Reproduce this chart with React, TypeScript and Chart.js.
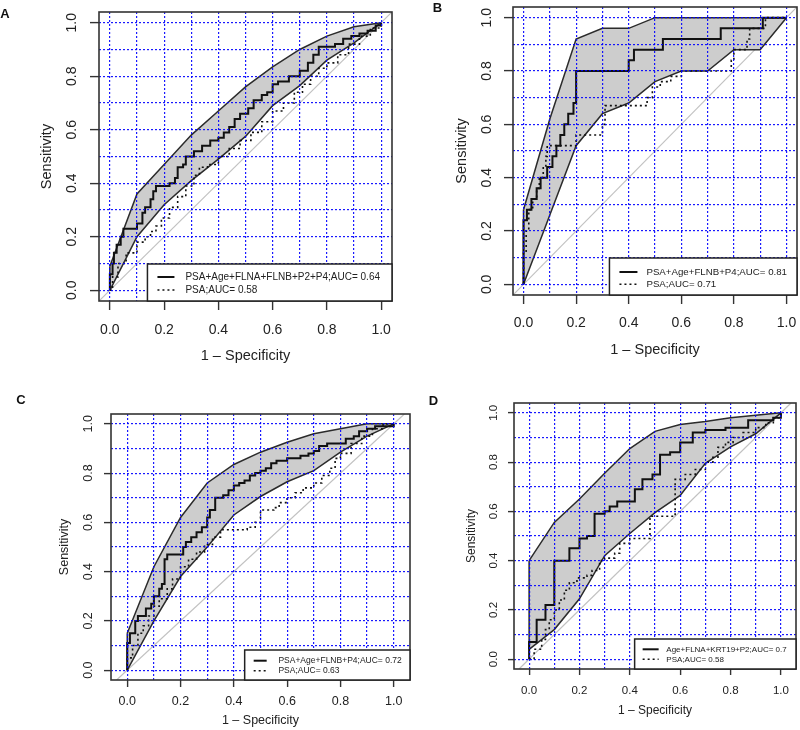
import React, { useEffect, useRef } from "react";
import { Chart, registerables } from "chart.js";

Chart.register(...registerables);

const FONT = '"Liberation Sans", Arial, Helvetica, sans-serif';

// ---------- shared axis data ----------
const SPEC_POINTS = [0, 0.1, 0.2, 0.3, 0.4, 0.5, 0.6, 0.7, 0.8, 0.9, 1.0];
const TICK_VALUES = [0, 0.2, 0.4, 0.6, 0.8, 1.0];
const TICK_LABELS = ["0.0", "0.2", "0.4", "0.6", "0.8", "1.0"];
const X_TITLE = "1 – Specificity";
const Y_TITLE = "Sensitivity";
const Y_MIN = -0.04;
const Y_MAX = 1.04;
const PANEL_LETTERS = ["A", "B", "C", "D"];
const MODEL_LABELS = [
  "PSA+Age+FLNA+FLNB+P2+P4;AUC= 0.64",
  "PSA+Age+FLNB+P4;AUC= 0.81",
  "PSA+Age+FLNB+P4;AUC= 0.72",
  "Age+FLNA+KRT19+P2;AUC= 0.7",
];
const PSA_LABELS = ["PSA;AUC= 0.58", "PSA;AUC= 0.71", "PSA;AUC= 0.63", "PSA;AUC= 0.58"];

// ---------- panel A ----------
const A_ROC_X = [0, 0, 0.01, 0.015, 0.025, 0.04, 0.05, 0.08, 0.1, 0.12, 0.13, 0.15, 0.16, 0.17, 0.21, 0.22, 0.24, 0.25, 0.27, 0.28, 0.31, 0.34, 0.37, 0.4, 0.42, 0.44, 0.46, 0.48, 0.51, 0.53, 0.56, 0.58, 0.6, 0.62, 0.66, 0.7, 0.73, 0.75, 0.77, 0.8, 0.83, 0.86, 0.89, 0.92, 0.95, 0.98, 1];
const A_ROC_Y = [0, 0.06, 0.1, 0.14, 0.17, 0.2, 0.23, 0.23, 0.25, 0.29, 0.31, 0.34, 0.37, 0.39, 0.39, 0.4, 0.42, 0.46, 0.47, 0.5, 0.52, 0.54, 0.56, 0.57, 0.59, 0.61, 0.64, 0.66, 0.68, 0.71, 0.73, 0.74, 0.77, 0.78, 0.8, 0.82, 0.85, 0.88, 0.91, 0.91, 0.92, 0.94, 0.95, 0.96, 0.97, 0.99, 1];
const A_PSA_X = [0, 0.01, 0.03, 0.06, 0.1, 0.13, 0.15, 0.17, 0.19, 0.22, 0.25, 0.28, 0.31, 0.33, 0.36, 0.4, 0.44, 0.48, 0.52, 0.56, 0.6, 0.64, 0.68, 0.71, 0.74, 0.77, 0.8, 0.84, 0.88, 0.92, 0.96, 1];
const A_PSA_Y = [0, 0.05, 0.1, 0.14, 0.18, 0.2, 0.22, 0.24, 0.27, 0.31, 0.35, 0.39, 0.43, 0.46, 0.47, 0.5, 0.53, 0.56, 0.59, 0.63, 0.67, 0.7, 0.74, 0.77, 0.8, 0.83, 0.85, 0.88, 0.92, 0.95, 0.98, 1];
const A_CI_UPPER = [0.09, 0.36, 0.47, 0.58, 0.67, 0.76, 0.835, 0.9, 0.95, 0.985, 1.0];
const A_CI_LOWER = [0.0, 0.2, 0.32, 0.41, 0.49, 0.575, 0.69, 0.765, 0.86, 0.925, 1.0];

// ---------- panel B ----------
const B_ROC_X = [0, 0, 0.013, 0.03, 0.05, 0.065, 0.09, 0.11, 0.125, 0.14, 0.155, 0.17, 0.19, 0.2, 0.4, 0.42, 0.53, 0.75, 0.91, 1];
const B_ROC_Y = [0, 0.24, 0.28, 0.32, 0.36, 0.4, 0.44, 0.48, 0.52, 0.56, 0.6, 0.64, 0.68, 0.8, 0.84, 0.88, 0.92, 0.96, 1, 1];
const B_PSA_X = [0, 0, 0.01, 0.02, 0.035, 0.05, 0.06, 0.075, 0.085, 0.09, 0.2, 0.3, 0.31, 0.47, 0.49, 0.52, 0.56, 0.6, 0.78, 0.79, 0.8, 0.85, 0.86, 0.92, 1];
const B_PSA_Y = [0, 0.12, 0.2, 0.28, 0.32, 0.36, 0.4, 0.44, 0.48, 0.52, 0.56, 0.6, 0.67, 0.7, 0.74, 0.76, 0.78, 0.8, 0.8, 0.84, 0.88, 0.92, 0.96, 1, 1];
const B_CI_UPPER = [0.28, 0.62, 0.92, 0.96, 0.96, 1.0, 1.0, 1.0, 1.0, 1.0, 1.0];
const B_CI_LOWER = [0.0, 0.26, 0.52, 0.64, 0.68, 0.76, 0.8, 0.8, 0.88, 0.88, 1.0];

// ---------- panel C ----------
const C_ROC_X = [0, 0, 0.01, 0.03, 0.04, 0.07, 0.09, 0.1, 0.12, 0.13, 0.14, 0.15, 0.2, 0.21, 0.22, 0.24, 0.26, 0.28, 0.3, 0.31, 0.33, 0.36, 0.38, 0.4, 0.42, 0.44, 0.46, 0.48, 0.5, 0.52, 0.54, 0.56, 0.6, 0.65, 0.68, 0.7, 0.72, 0.75, 0.8, 0.82, 0.85, 0.87, 0.9, 0.93, 1];
const C_ROC_Y = [0, 0.11, 0.15, 0.2, 0.22, 0.25, 0.27, 0.3, 0.33, 0.35, 0.45, 0.47, 0.47, 0.5, 0.52, 0.54, 0.56, 0.58, 0.62, 0.65, 0.7, 0.71, 0.73, 0.75, 0.76, 0.77, 0.79, 0.8, 0.81, 0.82, 0.84, 0.85, 0.86, 0.87, 0.88, 0.89, 0.91, 0.92, 0.92, 0.94, 0.95, 0.97, 0.98, 0.99, 1];
const C_PSA_X = [0, 0, 0.02, 0.04, 0.06, 0.08, 0.1, 0.12, 0.15, 0.17, 0.2, 0.23, 0.26, 0.29, 0.32, 0.35, 0.45, 0.48, 0.5, 0.55, 0.57, 0.6, 0.63, 0.66, 0.7, 0.73, 0.76, 0.78, 0.8, 0.84, 0.88, 0.92, 0.96, 1];
const C_PSA_Y = [0, 0.05, 0.1, 0.15, 0.18, 0.22, 0.26, 0.29, 0.33, 0.37, 0.42, 0.45, 0.48, 0.51, 0.54, 0.57, 0.58, 0.6, 0.65, 0.66, 0.68, 0.7, 0.72, 0.74, 0.76, 0.79, 0.82, 0.86, 0.88, 0.92, 0.95, 0.98, 1, 1];
const C_CI_UPPER = [0.15, 0.42, 0.62, 0.76, 0.835, 0.885, 0.925, 0.96, 0.98, 1.0, 1.0];
const C_CI_LOWER = [0.0, 0.2, 0.38, 0.5, 0.63, 0.705, 0.765, 0.81, 0.885, 0.95, 1.0];

// ---------- panel D ----------
const D_ROC_X = [0, 0, 0.03, 0.065, 0.1, 0.16, 0.2, 0.23, 0.26, 0.3, 0.32, 0.35, 0.42, 0.45, 0.49, 0.52, 0.56, 0.6, 0.65, 0.7, 0.78, 0.87, 0.97, 1];
const D_ROC_Y = [0, 0.07, 0.16, 0.22, 0.4, 0.45, 0.49, 0.5, 0.59, 0.6, 0.62, 0.64, 0.69, 0.73, 0.75, 0.83, 0.84, 0.88, 0.92, 0.93, 0.94, 0.97, 0.98, 1];
const D_PSA_X = [0, 0.02, 0.05, 0.065, 0.08, 0.1, 0.12, 0.14, 0.16, 0.19, 0.23, 0.25, 0.28, 0.3, 0.34, 0.36, 0.4, 0.48, 0.48, 0.58, 0.58, 0.62, 0.66, 0.7, 0.73, 0.75, 0.78, 0.81, 0.85, 0.9, 0.94, 0.97, 1];
const D_PSA_Y = [0, 0.04, 0.08, 0.12, 0.16, 0.2, 0.24, 0.28, 0.31, 0.33, 0.34, 0.36, 0.4, 0.41, 0.43, 0.47, 0.49, 0.5, 0.58, 0.63, 0.73, 0.75, 0.77, 0.8, 0.82, 0.86, 0.88, 0.9, 0.92, 0.94, 0.96, 0.98, 1];
const D_CI_UPPER = [0.4, 0.555, 0.65, 0.755, 0.855, 0.925, 0.953, 0.965, 0.98, 0.99, 1.0];
const D_CI_LOWER = [0.04, 0.12, 0.245, 0.42, 0.51, 0.595, 0.665, 0.795, 0.862, 0.915, 1.0];

const SERIES = [
  { rocX: A_ROC_X, rocY: A_ROC_Y, psaX: A_PSA_X, psaY: A_PSA_Y, up: A_CI_UPPER, lo: A_CI_LOWER },
  { rocX: B_ROC_X, rocY: B_ROC_Y, psaX: B_PSA_X, psaY: B_PSA_Y, up: B_CI_UPPER, lo: B_CI_LOWER },
  { rocX: C_ROC_X, rocY: C_ROC_Y, psaX: C_PSA_X, psaY: C_PSA_Y, up: C_CI_UPPER, lo: C_CI_LOWER },
  { rocX: D_ROC_X, rocY: D_ROC_Y, psaX: D_PSA_X, psaY: D_PSA_Y, up: D_CI_UPPER, lo: D_CI_LOWER },
];

// ---------- layout (positions / styles only) ----------
const LAYOUT = [
  {
    box: [99, 12, 392, 301], xPad: 0.04, tickFont: 14, titleFont: 14.5, tickLen: 9,
    yTitleX: 46.7, yTickX: 71.7, xTickY: 330, xTitleY: 355.5, xTitlePadB: 4,
    legend: { h: 37, row1: 13, row2: 26, sampleX0: 10, sampleLen: 17, textX: 38, rightMargin: 12, font: 10 },
    letter: [5, 13],
  },
  {
    box: [513, 7, 797, 295], xPad: 0.04, tickFont: 14, titleFont: 14.5, tickLen: 9,
    yTitleX: 461.7, yTickX: 486.7, xTickY: 323.3, xTitleY: 349.5, xTitlePadB: 4,
    legend: { h: 37, row1: 14, row2: 26.3, sampleX0: 10, sampleLen: 18, textX: 37, rightMargin: 10, font: 9.7 },
    letter: [437.5, 7],
  },
  {
    box: [111, 414, 410, 680], xPad: 0.061, tickFont: 12.5, titleFont: 12.5, tickLen: 7,
    yTitleX: 65, yTickX: 88.3, xTickY: 701.7, xTitleY: 720.5, xTitlePadB: 0,
    legend: { h: 30, row1: 10.7, row2: 20.7, sampleX0: 9, sampleLen: 13, textX: 33.7, rightMargin: 8.3, font: 8.5 },
    letter: [21, 399],
  },
  {
    box: [514, 403, 796, 669], xPad: 0.06, tickFont: 11.5, titleFont: 12, tickLen: 6,
    yTitleX: 471.7, yTickX: 494, xTickY: 690.7, xTitleY: 710.5, xTitlePadB: 2,
    legend: { h: 30, row1: 10.3, row2: 20.3, sampleX0: 8, sampleLen: 16, textX: 31.7, rightMargin: 9.3, font: 8 },
    letter: [433.5, 400],
  },
];

const GRID_BLUE = "rgba(0,0,255,0.9)";
const BAND_FILL = "#cdcdcd";
const BAND_EDGE = "#2b2b2b";
const LINE_BLACK = "#111111";
const DIAG_GREY = "#c2c2c2";
const TEXT_COLOR = "#222222";

function pts(xs: number[], ys: number[]) {
  return xs.map((x, i) => ({ x, y: ys[i] }));
}

function tickLabel(value: number) {
  const k = TICK_VALUES.findIndex((v) => Math.abs(v - value) < 1e-9);
  return k >= 0 ? TICK_LABELS[k] : "";
}

function buildChart(canvas: HTMLCanvasElement, L: any, S: any, idx: number) {
  const W = 800;
  const H = 730;
  const [l, t, r, b] = L.box;
  const meas = document.createElement("canvas").getContext("2d") as CanvasRenderingContext2D;
  meas.font = `${L.tickFont}px ${FONT}`;
  const widest = Math.max(...TICK_LABELS.map((s) => meas.measureText(s).width));
  const lhT = L.titleFont * 1.2;
  const lhK = L.tickFont * 1.2;
  const padL = L.yTitleX - lhT / 2 - 4;
  const yWidth = l - padL;
  const yTickPad = l - L.tickLen - widest / 2 - L.yTickX;
  const xTickPad = L.xTickY - b - L.tickLen - lhK / 2;
  const scaleBottom = L.xTitleY + lhT / 2 + L.xTitlePadB;
  const padB = H - scaleBottom;
  const xHeight = scaleBottom - b;
  const xMin = -L.xPad;
  const xMax = 1 + L.xPad;
  const dMin = Math.max(xMin, Y_MIN);
  const dMax = Math.min(xMax, Y_MAX);

  const gridTickColor = (ctx: any) => (ctx.index % 2 === 0 ? "#333" : "rgba(0,0,0,0)");

  const framePlugin = {
    id: "frameAndLegend" + idx,
    afterDraw(chart: any) {
      const ctx = chart.ctx;
      const ca = chart.chartArea;
      ctx.save();
      // frame
      ctx.strokeStyle = "#333";
      ctx.lineWidth = 1.6;
      ctx.setLineDash([]);
      ctx.strokeRect(ca.left, ca.top, ca.right - ca.left, ca.bottom - ca.top);
      // legend
      const lg = L.legend;
      ctx.font = `${lg.font}px ${FONT}`;
      const tw = Math.max(ctx.measureText(MODEL_LABELS[idx]).width, ctx.measureText(PSA_LABELS[idx]).width);
      const right = ca.right;
      const bottom = ca.bottom;
      const left = right - (lg.textX + tw + lg.rightMargin);
      const top = bottom - lg.h;
      ctx.fillStyle = "#ffffff";
      ctx.fillRect(left, top, right - left, bottom - top);
      ctx.strokeStyle = "#222";
      ctx.lineWidth = 1.5;
      ctx.strokeRect(left, top, right - left, bottom - top);
      const y1 = top + lg.row1;
      const y2 = top + lg.row2;
      ctx.strokeStyle = LINE_BLACK;
      ctx.lineWidth = 2;
      ctx.beginPath();
      ctx.moveTo(left + lg.sampleX0, y1);
      ctx.lineTo(left + lg.sampleX0 + lg.sampleLen, y1);
      ctx.stroke();
      ctx.lineWidth = 1.6;
      ctx.setLineDash([2, 3]);
      ctx.beginPath();
      ctx.moveTo(left + lg.sampleX0, y2);
      ctx.lineTo(left + lg.sampleX0 + lg.sampleLen, y2);
      ctx.stroke();
      ctx.setLineDash([]);
      ctx.fillStyle = TEXT_COLOR;
      ctx.textBaseline = "middle";
      ctx.textAlign = "left";
      ctx.fillText(MODEL_LABELS[idx], left + lg.textX, y1);
      ctx.fillText(PSA_LABELS[idx], left + lg.textX, y2);
      ctx.restore();
    },
  };

  const tickFont = { family: FONT, size: L.tickFont };
  const titleFont = { family: FONT, size: L.titleFont };

  return new Chart(canvas, {
    type: "line",
    data: {
      datasets: [
        {
          label: MODEL_LABELS[idx],
          data: pts(S.rocX, S.rocY),
          borderColor: LINE_BLACK,
          borderWidth: 2,
          stepped: "before",
          pointRadius: 0,
          fill: false,
        },
        {
          label: PSA_LABELS[idx],
          data: pts(S.psaX, S.psaY),
          borderColor: LINE_BLACK,
          borderWidth: 1.6,
          borderDash: [2, 3],
          stepped: "before",
          pointRadius: 0,
          fill: false,
        },
        {
          label: "ci-edge",
          data: [
            { x: SPEC_POINTS[0], y: S.lo[0] },
            { x: SPEC_POINTS[0], y: S.up[0] },
          ],
          borderColor: BAND_EDGE,
          borderWidth: 1.5,
          pointRadius: 0,
          fill: false,
        },
        {
          label: "ci-lower",
          data: pts(SPEC_POINTS, S.lo),
          borderColor: BAND_EDGE,
          borderWidth: 1.5,
          pointRadius: 0,
          fill: false,
        },
        {
          label: "ci-upper",
          data: pts(SPEC_POINTS, S.up),
          borderColor: BAND_EDGE,
          borderWidth: 1.5,
          pointRadius: 0,
          fill: "-1",
          backgroundColor: BAND_FILL,
        },
        {
          label: "diagonal",
          data: [
            { x: dMin, y: dMin },
            { x: dMax, y: dMax },
          ],
          borderColor: DIAG_GREY,
          borderWidth: 1.2,
          pointRadius: 0,
          fill: false,
        },
      ],
    },
    options: {
      animation: false,
      responsive: false,
      maintainAspectRatio: false,
      events: [],
      layout: { padding: { left: padL, top: t, right: W - r, bottom: padB } },
      plugins: {
        legend: { display: false },
        tooltip: { enabled: false },
        filler: { propagate: false, drawTime: "beforeDatasetDraw" },
      },
      scales: {
        x: {
          type: "linear",
          min: xMin,
          max: xMax,
          afterBuildTicks: (s: any) => {
            s.ticks = SPEC_POINTS.map((v) => ({ value: v }));
          },
          afterFit: (s: any) => {
            s.height = xHeight;
            s.paddingLeft = 0;
            s.paddingRight = 0;
          },
          grid: {
            color: GRID_BLUE,
            lineWidth: 1.2,
            drawTicks: true,
            tickLength: L.tickLen,
            tickColor: gridTickColor,
            tickWidth: 1.4,
            z: 1,
          },
          border: { display: false, dash: [2, 2] },
          ticks: {
            autoSkip: false,
            minRotation: 0,
            maxRotation: 0,
            padding: xTickPad,
            font: tickFont,
            color: TEXT_COLOR,
            callback: (v: any) => tickLabel(Number(v)),
          },
          title: {
            display: true,
            text: X_TITLE,
            font: titleFont,
            color: TEXT_COLOR,
            padding: { top: 0, bottom: L.xTitlePadB },
          },
        },
        y: {
          type: "linear",
          min: Y_MIN,
          max: Y_MAX,
          afterBuildTicks: (s: any) => {
            s.ticks = SPEC_POINTS.map((v) => ({ value: v }));
          },
          afterFit: (s: any) => {
            s.width = yWidth;
            s.paddingTop = 0;
            s.paddingBottom = 0;
          },
          grid: {
            color: GRID_BLUE,
            lineWidth: 1.2,
            drawTicks: true,
            tickLength: L.tickLen,
            tickColor: gridTickColor,
            tickWidth: 1.4,
            z: 1,
          },
          border: { display: false, dash: [2, 2] },
          ticks: {
            autoSkip: false,
            minRotation: 90,
            maxRotation: 90,
            crossAlign: "center",
            padding: yTickPad,
            font: tickFont,
            color: TEXT_COLOR,
            callback: (v: any) => tickLabel(Number(v)),
          },
          title: {
            display: true,
            text: Y_TITLE,
            font: titleFont,
            color: TEXT_COLOR,
            padding: { top: 4, bottom: 0 },
          },
        },
      },
    },
    plugins: [framePlugin],
  } as any);
}

export default function App() {
  const r0 = useRef<HTMLCanvasElement | null>(null);
  const r1 = useRef<HTMLCanvasElement | null>(null);
  const r2 = useRef<HTMLCanvasElement | null>(null);
  const r3 = useRef<HTMLCanvasElement | null>(null);
  const refs = [r0, r1, r2, r3];

  useEffect(() => {
    const charts = LAYOUT.map((L, i) => buildChart(refs[i].current as HTMLCanvasElement, L, SERIES[i], i));
    return () => charts.forEach((c) => c.destroy());
  }, []);

  return (
    <div style={{ position: "absolute", left: 0, top: 0, width: 800, height: 730, background: "#ffffff", overflow: "hidden" }}>
      {LAYOUT.map((L, i) => (
        <canvas
          key={"c" + i}
          ref={refs[i]}
          width={800}
          height={730}
          style={{ position: "absolute", left: 0, top: 0, width: 800, height: 730 }}
        />
      ))}
      {LAYOUT.map((L, i) => (
        <span
          key={"l" + i}
          style={{
            position: "absolute",
            left: L.letter[0],
            top: L.letter[1],
            transform: "translate(-50%, -50%)",
            font: `bold 13px ${FONT}`,
            lineHeight: 1,
            color: "#111",
          }}
        >
          {PANEL_LETTERS[i]}
        </span>
      ))}
    </div>
  );
}
